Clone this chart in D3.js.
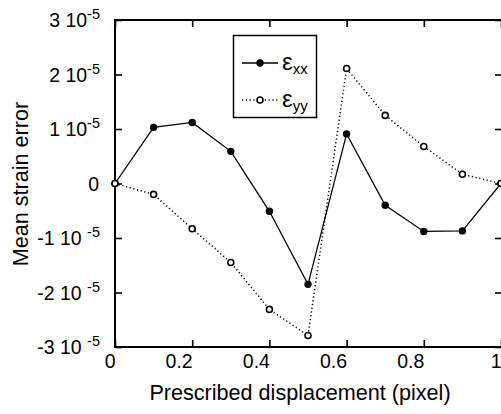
<!DOCTYPE html>
<html><head><meta charset="utf-8">
<script src="https://cdn.jsdelivr.net/npm/d3@7"></script>
<style>body{margin:0;background:#fff}svg{display:block}text{font-family:"Liberation Sans",Arial,sans-serif;fill:#000}</style>
</head><body><svg id="c" width="501" height="414"></svg>
<script>
const xValues = [0, 0.1, 0.2, 0.3, 0.4, 0.5, 0.6, 0.7, 0.8, 0.9, 1.0];
const exx = [0, 1.03e-5, 1.12e-5, 0.59e-5, -0.51e-5, -1.85e-5, 0.91e-5, -0.40e-5, -0.88e-5, -0.87e-5, 0];
const eyy = [0, -0.20e-5, -0.83e-5, -1.45e-5, -2.31e-5, -2.79e-5, 2.11e-5, 1.25e-5, 0.68e-5, 0.17e-5, 0];
const xTicks = [0, 0.2, 0.4, 0.6, 0.8, 1];
const xTickLabels = ["0", "0.2", "0.4", "0.6", "0.8", "1"];
const yTicks = [3e-5, 2e-5, 1e-5, 0, -1e-5, -2e-5, -3e-5];
const yTickLabels = ["3 10", "2 10", "1 10", "0", "-1 10 ", "-2 10 ", "-3 10 "];
const yTickExp = ["-5", "-5", "-5", "", "-5", "-5", "-5"];
const xTitle = "Prescribed displacement (pixel)";
const yTitle = "Mean strain error";

const svg = d3.select("#c");
const L = 115, R = 501, T = 20, B = 347;
const x = d3.scaleLinear().domain([0, 1]).range([L, R]);
const y = d3.scaleLinear().domain([-3e-5, 3e-5]).range([B, T]);

// frame
const fr = svg.append("g").attr("stroke", "#000").attr("stroke-width", 2).attr("fill", "none");
fr.append("line").attr("x1", L).attr("x2", L).attr("y1", T - 1).attr("y2", B + 1);
fr.append("line").attr("x1", L - 1).attr("x2", 505).attr("y1", T).attr("y2", T);
fr.append("line").attr("x1", L - 1).attr("x2", 505).attr("y1", B).attr("y2", B);
fr.append("line").attr("x1", 503).attr("x2", 503).attr("y1", T).attr("y2", B);

// axes with inward ticks
const gBottom = svg.append("g").attr("transform", `translate(0,${B})`)
  .call(d3.axisBottom(x).tickValues(xTicks).tickSize(-7).tickFormat((d, i) => xTickLabels[i]));
const gTop = svg.append("g").attr("transform", `translate(0,${T})`)
  .call(d3.axisTop(x).tickValues(xTicks).tickSize(-7).tickFormat(""));
const gLeft = svg.append("g").attr("transform", `translate(${L},0)`)
  .call(d3.axisLeft(y).tickValues(yTicks).tickSize(-7).tickFormat(""));
const gRight = svg.append("g").attr("transform", `translate(502,0)`)
  .call(d3.axisRight(y).tickValues(yTicks).tickSize(-7).tickFormat(""));
[gBottom, gTop, gLeft, gRight].forEach(g => {
  g.select(".domain").remove();
  g.selectAll(".tick line").attr("stroke", "#000").attr("stroke-width", 1.6);
});
gBottom.selectAll(".tick text").attr("font-size", 19.5).attr("text-anchor", "end")
  .attr("dy", null).attr("y", 21).attr("dx", 0)
  .attr("font-family", "'Liberation Sans',Arial,sans-serif").attr("fill", "#000");

// y labels with superscript
const yl = svg.append("g");
yTicks.forEach((v, i) => {
  const t = yl.append("text").attr("x", yTickExp[i] ? 100 : 99).attr("y", y(v) + 7)
    .attr("text-anchor", "end").attr("font-size", 19.5);
  t.append("tspan").text(yTickLabels[i]);
  if (yTickExp[i]) {
    t.append("tspan").attr("font-size", 14.5).attr("dy", -8).text(yTickExp[i]);
  }
});

// titles
svg.append("text").attr("x", 300).attr("y", 400).attr("text-anchor", "middle")
  .attr("font-size", 21.6).text(xTitle);
svg.append("text").attr("transform", `translate(28,184) rotate(-90)`).attr("text-anchor", "middle")
  .attr("font-size", 21.6).text(yTitle);

// lines
const dxx = xValues.map((d, i) => [d, exx[i]]);
const dyy = xValues.map((d, i) => [d, eyy[i]]);
const line = d3.line().x(d => x(d[0])).y(d => y(d[1]));
svg.append("path").datum(dyy).attr("d", line).attr("fill", "none").attr("stroke", "#000")
  .attr("stroke-width", 1.5).attr("stroke-dasharray", "1.2,2.6");
svg.append("path").datum(dxx).attr("d", line).attr("fill", "none").attr("stroke", "#000")
  .attr("stroke-width", 1.3);
svg.append("g").selectAll("circle").data(dxx).join("circle")
  .attr("cx", d => x(d[0])).attr("cy", d => y(d[1])).attr("r", 3.7).attr("fill", "#000");
svg.append("g").selectAll("circle").data(dyy).join("circle")
  .attr("cx", d => x(d[0])).attr("cy", d => y(d[1])).attr("r", 3).attr("fill", "#fff")
  .attr("stroke", "#000").attr("stroke-width", 1.6);

// legend
const lg = svg.append("g");
lg.append("rect").attr("x", 233.5).attr("y", 35.5).attr("width", 83).attr("height", 82)
  .attr("fill", "#fff").attr("stroke", "#000").attr("stroke-width", 1.5);
lg.append("line").attr("x1", 242).attr("x2", 278).attr("y1", 63).attr("y2", 63)
  .attr("stroke", "#000").attr("stroke-width", 1.5);
lg.append("circle").attr("cx", 260).attr("cy", 63).attr("r", 3.7).attr("fill", "#000");
lg.append("line").attr("x1", 242).attr("x2", 278).attr("y1", 100).attr("y2", 100)
  .attr("stroke", "#000").attr("stroke-width", 1.5).attr("stroke-dasharray", "1.2,2.6");
lg.append("circle").attr("cx", 260).attr("cy", 100).attr("r", 3).attr("fill", "#fff")
  .attr("stroke", "#000").attr("stroke-width", 1.6);
const t1 = lg.append("text").attr("x", 282).attr("y", 70).attr("font-size", 24);
t1.append("tspan").text("ε");
t1.append("tspan").attr("font-size", 15).attr("dy", 4).text("xx");
const t2 = lg.append("text").attr("x", 282).attr("y", 107).attr("font-size", 24);
t2.append("tspan").text("ε");
t2.append("tspan").attr("font-size", 15).attr("dy", 4).text("yy");
</script></body></html>
